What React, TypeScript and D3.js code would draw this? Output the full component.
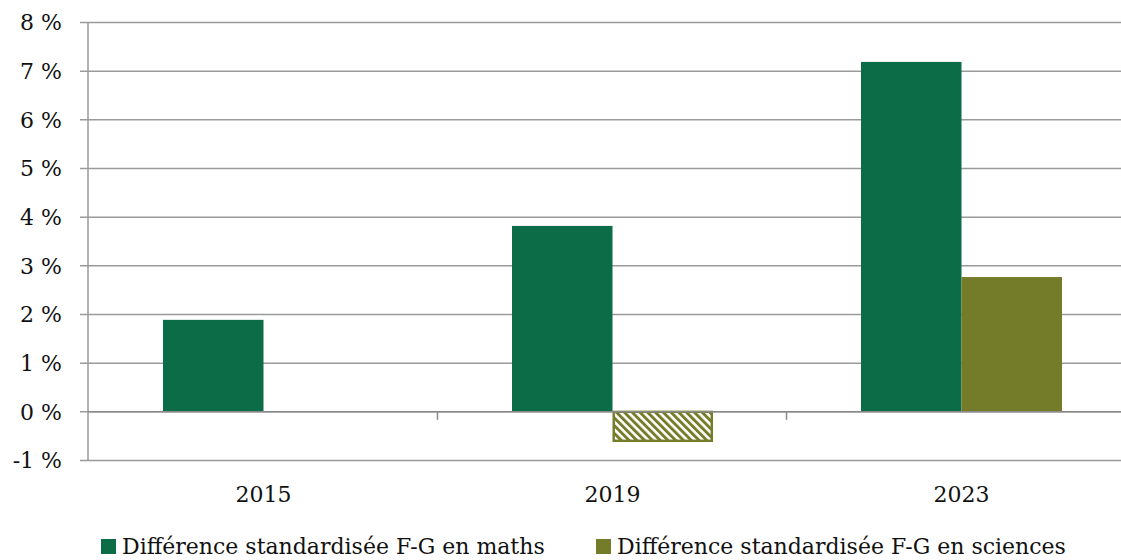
import { useEffect, useRef } from 'react';
import * as d3 from 'd3';

const years = ['2015', '2019', '2023'];
const maths = [1.89, 3.82, 7.19];
const sciences: (number | null)[] = [null, -0.62, 2.77];
const yTicks = [-1, 0, 1, 2, 3, 4, 5, 6, 7, 8];
const seriesNames = [
  'Différence standardisée F-G en maths',
  'Différence standardisée F-G en sciences',
];

export default function App() {
  const svgRef = useRef<SVGSVGElement>(null);

  useEffect(() => {
    if (!svgRef.current) return;
    const width = 1121;
    const height = 560;
    const font = '"DejaVu Serif", serif';
    const green = '#0D6C48';
    const olive = '#757C29';
    const grid = '#9a9a9a';

    d3.select(svgRef.current).selectAll('*').remove();
    const svg = d3
      .select(svgRef.current)
      .attr('width', width)
      .attr('height', height)
      .style('display', 'block');

    // Hatch pattern for the negative sciences bar
    const defs = svg.append('defs');
    const pat = defs
      .append('pattern')
      .attr('id', 'hatch')
      .attr('patternUnits', 'userSpaceOnUse')
      .attr('width', 5.5)
      .attr('height', 5.5)
      .attr('patternTransform', 'rotate(-45)');
    pat.append('rect').attr('width', 5.5).attr('height', 5.5).attr('fill', '#fff');
    pat.append('rect').attr('width', 2.9).attr('height', 5.5).attr('fill', olive);

    const x = d3.scaleBand().domain(years).range([89, 1136]);
    const y = d3.scaleLinear().domain([-1, 8]).range([460.5, 22.5]);
    const pad = 74;
    const barW = (x.bandwidth() - pad * 2) / 2;

    // Gridlines
    svg
      .append('g')
      .selectAll('line')
      .data(yTicks)
      .enter()
      .append('line')
      .attr('x1', 80)
      .attr('x2', width)
      .attr('y1', (d) => y(d))
      .attr('y2', (d) => y(d))
      .attr('stroke', grid)
      .attr('stroke-width', 1.5);

    // Left axis line
    svg
      .append('line')
      .attr('x1', 88)
      .attr('x2', 88)
      .attr('y1', y(8))
      .attr('y2', y(-1))
      .attr('stroke', grid)
      .attr('stroke-width', 1.5);

    // Y labels
    svg
      .append('g')
      .selectAll('text')
      .data(yTicks)
      .enter()
      .append('text')
      .attr('x', 62)
      .attr('y', (d) => y(d))
      .attr('dy', '0.36em')
      .attr('text-anchor', 'end')
      .attr('font-family', font)
      .attr('font-size', 22)
      .attr('fill', '#111')
      .text((d) => `${d} %`);

    // Maths bars
    svg
      .append('g')
      .selectAll('rect')
      .data(maths)
      .enter()
      .append('rect')
      .attr('x', (_, i) => (x(years[i]) as number) + pad)
      .attr('width', barW)
      .attr('y', (d) => y(d))
      .attr('height', (d) => y(0) - y(d))
      .attr('fill', green);

    // Sciences bars
    svg
      .append('g')
      .selectAll('rect')
      .data(sciences.map((v, i) => ({ v, i })).filter((d) => d.v !== null))
      .enter()
      .append('rect')
      .attr('x', (d) => (x(years[d.i]) as number) + pad + barW + (d.v! < 0 ? 1.2 : 0))
      .attr('width', (d) => barW - (d.v! < 0 ? 2.4 : 0))
      .attr('y', (d) => (d.v! >= 0 ? y(d.v!) : y(0)))
      .attr('height', (d) => Math.abs(y(0) - y(d.v!)) - (d.v! < 0 ? 1.2 : 0))
      .attr('fill', (d) => (d.v! < 0 ? 'url(#hatch)' : olive))
      .attr('stroke', (d) => (d.v! < 0 ? olive : 'none'))
      .attr('stroke-width', 2.4);

    // Zero line with category ticks
    svg
      .append('line')
      .attr('x1', 88)
      .attr('x2', width)
      .attr('y1', y(0))
      .attr('y2', y(0))
      .attr('stroke', '#8a8a8a')
      .attr('stroke-width', 1.5);
    svg
      .append('g')
      .selectAll('line')
      .data(years.slice(1))
      .enter()
      .append('line')
      .attr('x1', (d) => (x(d) as number) - 0.5)
      .attr('x2', (d) => (x(d) as number) - 0.5)
      .attr('y1', y(0))
      .attr('y2', y(0) + 8)
      .attr('stroke', '#8a8a8a')
      .attr('stroke-width', 1.5);

    // X labels
    svg
      .append('g')
      .selectAll('text')
      .data(years)
      .enter()
      .append('text')
      .attr('x', (d) => (x(d) as number) + pad + barW)
      .attr('y', 502)
      .attr('text-anchor', 'middle')
      .attr('font-family', font)
      .attr('font-size', 22)
      .attr('fill', '#111')
      .text((d) => d);

    // Legend
    const legend = svg
      .append('g')
      .selectAll('g')
      .data(seriesNames)
      .enter()
      .append('g')
      .attr('transform', (_, i) => `translate(${i === 0 ? 101 : 596}, 539)`);
    legend
      .append('rect')
      .attr('width', 15)
      .attr('height', 15)
      .attr('fill', (_, i) => (i === 0 ? green : olive));
    legend
      .append('text')
      .attr('x', 21)
      .attr('y', 15)
      .attr('font-family', font)
      .attr('font-size', 22)
      .attr('fill', '#111')
      .text((d) => d);
  }, []);

  return <svg ref={svgRef} style={{ position: 'absolute', left: 0, top: 0 }} />;
}
